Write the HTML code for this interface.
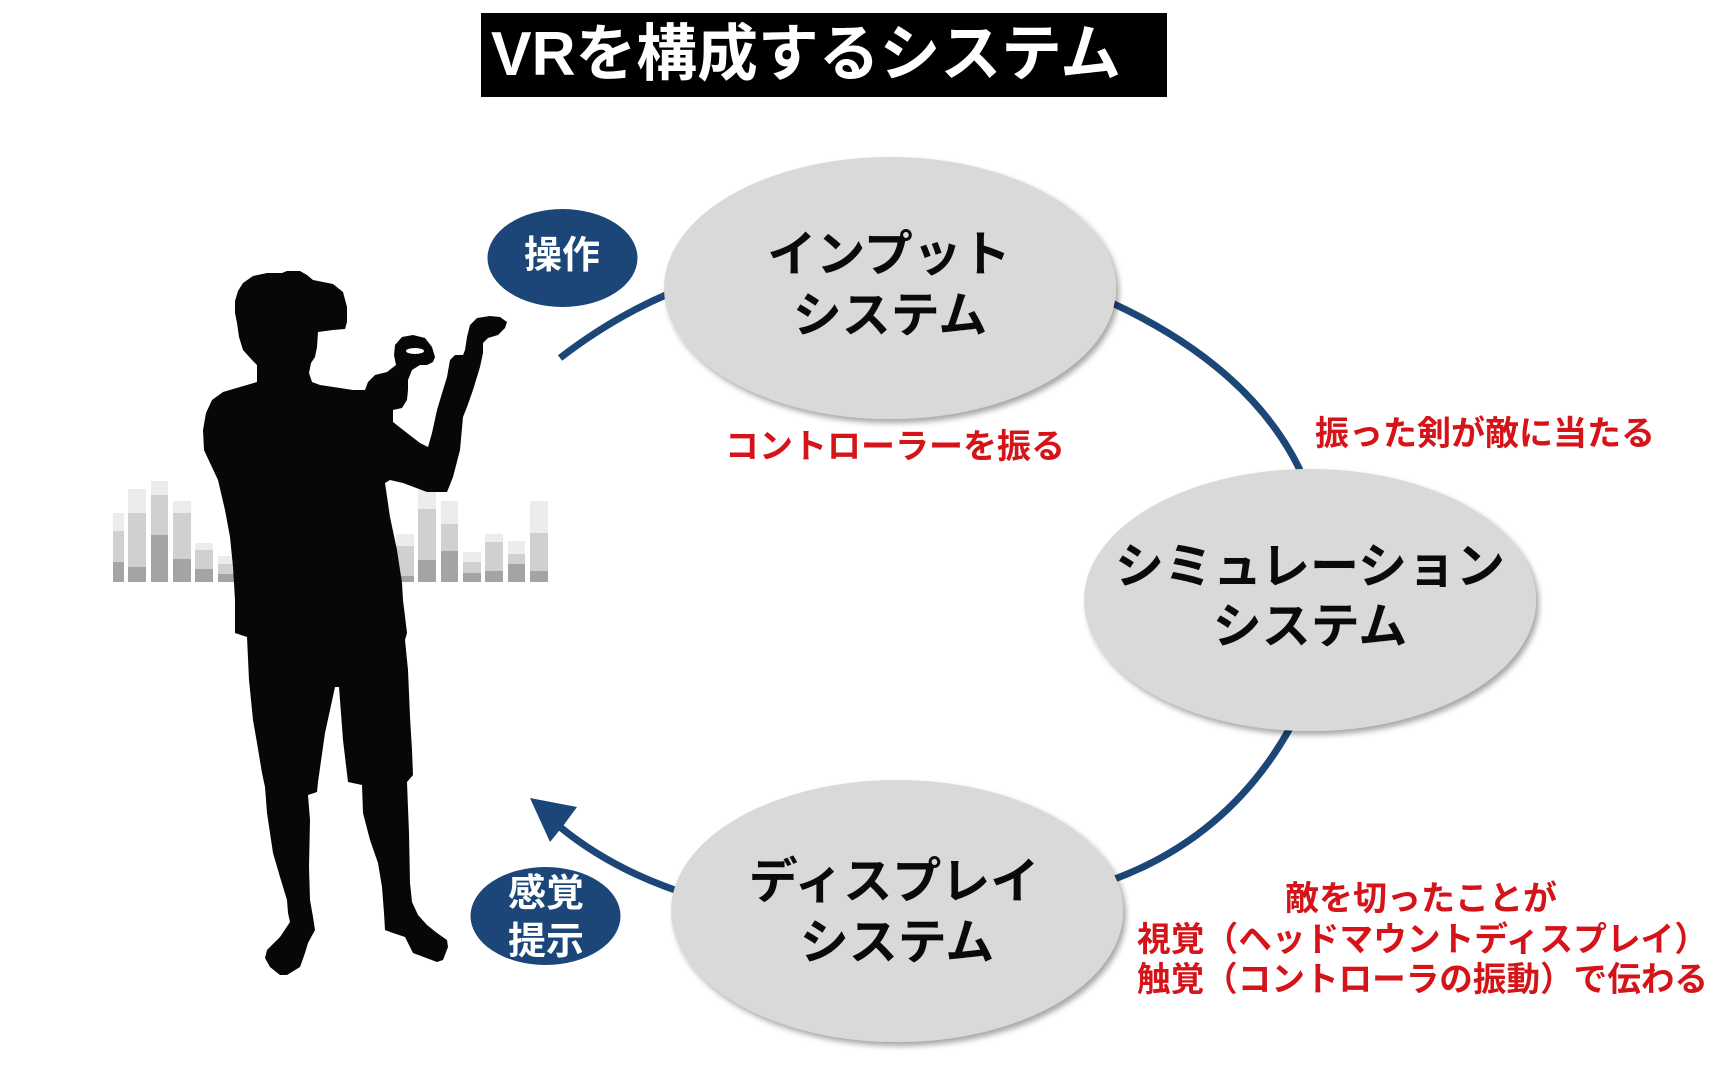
<!DOCTYPE html>
<html><head><meta charset="utf-8">
<style>
html,body{margin:0;padding:0;background:#fff;}
body{width:1714px;height:1069px;overflow:hidden;}
svg{display:block;}
.jp{font-family:"Liberation Sans","Noto Sans CJK JP",sans-serif;font-weight:bold;}
</style></head>
<body>
<svg width="1714" height="1069" viewBox="0 0 1714 1069" xmlns="http://www.w3.org/2000/svg">
<defs>
<filter id="sh" x="-10%" y="-10%" width="125%" height="130%">
<feDropShadow dx="3" dy="4" stdDeviation="3" flood-color="#000" flood-opacity="0.35"/>
</filter>
</defs>

<!-- title -->
<rect x="481" y="13" width="686" height="84" fill="#000"/>
<text x="491" y="75" class="jp" font-size="62" fill="#fff" textLength="630" lengthAdjust="spacingAndGlyphs">VRを構成するシステム</text>

<!-- bar chart -->
<g>
<rect x="113" y="513" width="11" height="18" fill="#ececec"/><rect x="113" y="531" width="11" height="31" fill="#d0d0d0"/><rect x="113" y="562" width="11" height="20" fill="#a4a4a4"/>
<rect x="128" y="489" width="18" height="24" fill="#ececec"/><rect x="128" y="513" width="18" height="54" fill="#d0d0d0"/><rect x="128" y="567" width="18" height="15" fill="#a4a4a4"/>
<rect x="151" y="481" width="17" height="14" fill="#ececec"/><rect x="151" y="495" width="17" height="40" fill="#d0d0d0"/><rect x="151" y="535" width="17" height="47" fill="#a4a4a4"/>
<rect x="173" y="501" width="18" height="12" fill="#ececec"/><rect x="173" y="513" width="18" height="46" fill="#d0d0d0"/><rect x="173" y="559" width="18" height="23" fill="#a4a4a4"/>
<rect x="195" y="543" width="18" height="7" fill="#ececec"/><rect x="195" y="550" width="18" height="19" fill="#d0d0d0"/><rect x="195" y="569" width="18" height="13" fill="#a4a4a4"/>
<rect x="218" y="556" width="17" height="8" fill="#ececec"/><rect x="218" y="564" width="17" height="10" fill="#d0d0d0"/><rect x="218" y="574" width="17" height="8" fill="#a4a4a4"/>
<rect x="396" y="534" width="18" height="12" fill="#ececec"/><rect x="396" y="546" width="18" height="30" fill="#d0d0d0"/><rect x="396" y="576" width="18" height="6" fill="#a4a4a4"/>
<rect x="418" y="482" width="18" height="27" fill="#ececec"/><rect x="418" y="509" width="18" height="51" fill="#d0d0d0"/><rect x="418" y="560" width="18" height="22" fill="#a4a4a4"/>
<rect x="441" y="501" width="17" height="23" fill="#ececec"/><rect x="441" y="524" width="17" height="27" fill="#d0d0d0"/><rect x="441" y="551" width="17" height="31" fill="#a4a4a4"/>
<rect x="463" y="552" width="18" height="10" fill="#ececec"/><rect x="463" y="562" width="18" height="11" fill="#d0d0d0"/><rect x="463" y="573" width="18" height="9" fill="#a4a4a4"/>
<rect x="485" y="534" width="18" height="8" fill="#ececec"/><rect x="485" y="542" width="18" height="29" fill="#d0d0d0"/><rect x="485" y="571" width="18" height="11" fill="#a4a4a4"/>
<rect x="508" y="541" width="17" height="13" fill="#ececec"/><rect x="508" y="554" width="17" height="10" fill="#d0d0d0"/><rect x="508" y="564" width="17" height="18" fill="#a4a4a4"/>
<rect x="530" y="501" width="18" height="32" fill="#ececec"/><rect x="530" y="533" width="18" height="38" fill="#d0d0d0"/><rect x="530" y="571" width="18" height="11" fill="#a4a4a4"/>
</g>

<!-- silhouette -->
<path fill="#070707" d="
M267,273 L282,273 L287,271 L300,271 L307,275 L313,280 L333,284 L343,292 L347,307 L347,322 L345,329 L333,330 L318,332
L317,347 L315,357 L311,363 L309,373 L312,382 L320,385 L340,388 L353,390 L365,390 L368,382 L375,375 L387,372 L396,365
L394,355 L395,345 L402,337 L413,335 L425,338 L432,347 L435,357 L433,362 L427,365 L420,365 L412,370 L408,380 L408,390
L407,400 L402,408 L393,410 L393,422 L407,433 L420,443 L428,447 L432,433 L437,410 L443,390 L447,377 L450,360 L455,355
L463,355 L465,350 L467,337 L470,325 L477,318 L490,316 L500,317 L507,322 L505,328 L498,335 L488,338 L483,343 L483,353
L480,367 L473,390 L467,407 L463,417 L460,450 L453,477 L447,492 L427,492 L403,483 L390,480 L385,483
L390,517 L397,550 L402,583 L403,600 L407,633 L405,640 L408,670 L410,717 L412,750 L413,775 L407,782 L408,808 L409,833
L410,883 L412,902 L418,915 L427,925 L437,933 L447,940 L448,947 L443,960 L437,962 L413,953 L410,947 L405,937 L393,933
L385,930 L384,913 L382,887 L378,863 L370,840 L363,813 L362,785 L348,782 L343,740 L339,687 L335,687 L325,733 L318,782
L317,792 L308,795 L310,820 L309,867 L310,900 L313,917 L315,930 L308,943 L305,953 L300,967 L287,975 L280,975 L270,967
L265,958 L267,950 L280,937 L290,922 L288,913 L287,900 L280,877 L273,853 L267,813 L265,787 L262,773 L257,743 L253,720
L249,680 L247,637 L235,633 L235,600 L233,567 L230,537 L225,510 L218,480 L210,463 L204,450 L203,430 L206,413 L212,400
L223,392 L240,387 L257,382 L257,365 L252,360 L243,350 L239,337 L237,323 L235,313 L235,301 L238,291 L243,283 L253,276 Z"/>
<ellipse cx="415" cy="351" rx="9" ry="3" fill="#fff"/>

<!-- connectors -->
<g fill="none" stroke="#1b4677" stroke-width="7">
<path d="M560,358 Q612,318 668,294"/>
<path d="M1112,303 Q1250,367 1300,470"/>
<path d="M1290,728 Q1229,837 1112,880"/>
<path d="M675,890 Q609,867 560,827"/>
</g>
<polygon points="530,798 577,807 563,826 550,842" fill="#1b4677"/>

<!-- system ellipses -->
<g filter="url(#sh)" fill="#d9d9d9">
<ellipse cx="890" cy="288" rx="226" ry="131"/>
<ellipse cx="1310" cy="600" rx="226" ry="131"/>
<ellipse cx="897" cy="911" rx="226" ry="131"/>
</g>

<g class="jp" font-size="49" fill="#0a0a0a" text-anchor="middle" dominant-baseline="central">
<text x="889" y="255">インプット</text>
<text x="890" y="316">システム</text>
<text x="1310" y="567">シミュレーション</text>
<text x="1310" y="627">システム</text>
<text x="894" y="882">ディスプレイ</text>
<text x="897" y="943">システム</text>
</g>

<!-- blue bubbles -->
<ellipse cx="562.5" cy="258" rx="75" ry="49" fill="#1b4677"/>
<ellipse cx="545.5" cy="916" rx="75" ry="49" fill="#1b4677"/>
<g class="jp" font-size="38" fill="#fff" text-anchor="middle" dominant-baseline="central">
<text x="562" y="256">操作</text>
<text x="546" y="894">感覚</text>
<text x="546" y="942">提示</text>
</g>

<!-- red labels -->
<g class="jp" font-size="34" fill="#d5141a" dominant-baseline="central">
<text x="895" y="447" text-anchor="middle">コントローラーを振る</text>
<text x="1485" y="434" text-anchor="middle">振った剣が敵に当たる</text>
<text x="1421" y="899" text-anchor="middle">敵を切ったことが</text>
<text x="1137" y="940" textLength="571" lengthAdjust="spacingAndGlyphs">視覚（ヘッドマウントディスプレイ）</text>
<text x="1137" y="980" textLength="571" lengthAdjust="spacingAndGlyphs">触覚（コントローラの振動）で伝わる</text>
</g>
</svg>
</body></html>
